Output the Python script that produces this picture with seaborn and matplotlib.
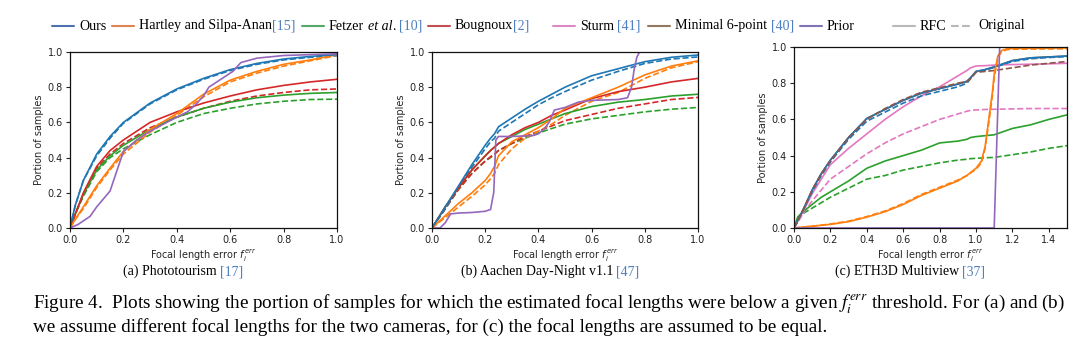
import matplotlib
matplotlib.use("Agg")
import matplotlib.pyplot as plt
import seaborn as sns
from matplotlib.lines import Line2D

# ---------------------------------------------------------------- data
# (a) Phototourism
grid_a = [0, .02, .05, .1, .15, .2, .3, .4, .5, .6, .7, .8, .9, 1.0]
ours_rfc_a = [0, .13, .27, .42, .52, .60, .71, .79, .85, .90, .935, .96, .975, .985]
ours_orig_a = [0, .13, .27, .41, .51, .595, .705, .785, .845, .895, .93, .955, .97, .98]
hartley_rfc_a = [0, .05, .12, .24, .34, .435, .56, .65, .76, .84, .89, .93, .955, .985]
hartley_orig_a = [0, .05, .11, .23, .33, .42, .545, .64, .745, .83, .88, .92, .95, .98]
fetzer_rfc_a = [0, .08, .19, .33, .41, .47, .56, .63, .68, .715, .74, .755, .765, .77]
fetzer_orig_a = [0, .08, .18, .32, .40, .45, .53, .60, .65, .68, .705, .72, .73, .732]
bougnoux_rfc_a = [0, .08, .20, .35, .44, .50, .60, .66, .71, .75, .785, .81, .83, .845]
bougnoux_orig_a = [0, .08, .19, .34, .42, .48, .57, .63, .68, .72, .75, .77, .785, .79]
prior_x_a = [0, .03, .075, .1, .15, .2, .25, .3, .35, .4, .44, .47, .5, .52,
             .56, .61, .64, .7, .8, .9, 1.0]
prior_a = [0, .02, .066, .12, .21, .435, .5, .55, .59, .63, .66, .7, .75, .8,
           .84, .89, .94, .965, .98, .985, .99]

# (b) Aachen Day-Night v1.1
grid_b = [0, .05, .1, .15, .2, .22, .235, .25, .3, .35, .4, .45, .5, .6, .7, .8, .9, 1.0]
ours_rfc_b = [0, .12, .24, .36, .47, .51, .535, .575, .625, .675, .72, .76, .8, .865, .905, .945, .97, .983]
ours_orig_b = [0, .11, .23, .345, .45, .49, .51, .55, .60, .65, .70, .74, .775, .84, .89, .935, .96, .972]
hartley_rfc_b = [0, .07, .14, .2, .27, .31, .35, .41, .49, .53, .57, .62, .68, .74, .80, .87, .92, .95]
hartley_orig_b = [0, .06, .12, .18, .245, .28, .31, .36, .45, .51, .55, .59, .64, .72, .77, .85, .91, .945]
fetzer_rfc_b = [0, .12, .23, .33, .41, .44, .46, .48, .52, .56, .59, .62, .65, .69, .715, .73, .75, .76]
fetzer_orig_b = [0, .11, .22, .31, .38, .40, .42, .44, .48, .51, .54, .565, .59, .62, .64, .66, .675, .685]
bougnoux_rfc_b = [0, .12, .23, .33, .41, .44, .46, .48, .53, .57, .60, .64, .67, .735, .775, .80, .83, .85]
bougnoux_orig_b = [0, .11, .22, .31, .38, .405, .42, .44, .48, .52, .55, .58, .61, .645, .68, .705, .73, .742]
prior_x_b = [0, .03, .05, .07, .1, .15, .2, .22, .232, .24, .25, .3, .38, .4, .42,
             .44, .46, .5, .55, .6, .7, .735, .75, .76, .77, .78, 1.0]
prior_b = [0, 0, .03, .08, .085, .088, .095, .105, .2, .5, .52, .52, .525, .535, .56,
           .6, .67, .685, .715, .725, .73, .74, .8, .9, .97, 1.0, 1.0]

# (c) ETH3D Multiview
grid_c = [0, .02, .05, .1, .15, .2, .3, .4, .5, .6, .7, .8, .9, .95, .97, 1.0,
          1.05, 1.1, 1.2, 1.3, 1.4, 1.5]
ours_rfc_c = [0, .04, .1, .21, .3, .375, .5, .605, .655, .705, .745, .77, .795, .81, .83, .865,
              .875, .89, .925, .94, .945, .95]
ours_orig_c = [0, .04, .1, .2, .29, .365, .49, .59, .64, .69, .73, .755, .78, .80, .825, .862,
               .872, .887, .92, .935, .942, .947]
minimal_rfc_c = [0, .04, .1, .21, .3, .375, .5, .605, .655, .705, .745, .77, .795, .81, .83, .865,
                 .875, .89, .925, .94, .945, .95]
minimal_orig_c = [0, .04, .1, .21, .3, .37, .5, .6, .66, .71, .75, .775, .80, .81, .825, .86,
                  .865, .87, .885, .90, .91, .92]
sturm_rfc_c = [0, .04, .09, .19, .27, .35, .44, .52, .60, .67, .73, .78, .84, .87, .885, .895,
               .897, .90, .903, .905, .907, .91]
sturm_orig_c = [0, .03, .08, .15, .21, .27, .34, .41, .47, .52, .56, .60, .63, .645, .65, .652,
                .655, .656, .658, .66, .66, .66]
fetzer_rfc_c = [0, .06, .09, .13, .17, .2, .26, .33, .37, .4, .43, .47, .48, .49, .5, .505,
                .51, .515, .55, .57, .6, .625]
fetzer_orig_c = [0, .05, .08, .11, .14, .17, .22, .27, .29, .32, .34, .36, .375, .38, .383, .385,
                 .388, .39, .405, .42, .44, .455]
hartley_x_c = [0, .1, .2, .3, .4, .5, .6, .7, .8, .9, .95, 1.0, 1.03, 1.05, 1.07, 1.09,
               1.1, 1.12, 1.14, 1.17, 1.2, 1.5]
hartley_rfc_c = [0, .01, .02, .035, .06, .09, .13, .18, .22, .26, .29, .33, .37, .45, .6, .75,
                 .85, .95, .98, .99, .992, .995]
hartley_orig_c = [0, .01, .022, .038, .063, .094, .135, .185, .225, .265, .29, .325, .36, .44, .58, .73,
                  .83, .94, .975, .985, .988, .99]
prior_x_c = [0, 1.10, 1.13, 1.5]
prior_c = [0, 0, 1.0, 1.0]

# --------------------------------------------------------------- style
sns.set_theme(style="ticks")
plt.rcParams["font.family"] = ["DejaVu Sans"]
plt.rcParams["axes.edgecolor"] = "#111111"
plt.rcParams["mathtext.fontset"] = "dejavusans"

tab = sns.color_palette("tab10")
deep = sns.color_palette("deep")
LINE = {"ours": tab[0], "hartley": tab[1], "fetzer": tab[2], "bougnoux": tab[3],
        "prior": tab[4], "minimal": tab[5], "sturm": tab[6]}
KEY = {"ours": deep[0], "hartley": deep[1], "fetzer": deep[2], "bougnoux": deep[3],
       "prior": deep[4], "minimal": deep[5], "sturm": deep[6]}
CITE = "#4f7fbf"
SERIF = "Liberation Serif"

W, H = 1071, 344
fig = plt.figure(figsize=(W / 100, H / 100), dpi=100)
fig.patch.set_facecolor("white")


def px_axes(left, top, right, bottom):
    return fig.add_axes([left / W, 1 - bottom / H, (right - left) / W, (bottom - top) / H])


def curve(ax, x, y, key, dashed=False):
    sns.lineplot(x=x, y=y, ax=ax, color=LINE[key], linewidth=1.2,
                 linestyle="--" if dashed else "-", sort=False, estimator=None)


def style_axes(ax, xmax, xticks):
    ax.set_xlim(0, xmax)
    ax.set_ylim(0, 1)
    ax.set_xticks(xticks)
    ax.set_yticks([0, .2, .4, .6, .8, 1.0])
    ax.set_xticklabels([f"{t:.1f}" for t in xticks])
    ax.set_yticklabels([f"{t:.1f}" for t in [0, .2, .4, .6, .8, 1.0]])
    ax.tick_params(labelsize=7, length=3, width=0.8, pad=2, colors="#222222")
    for s in ax.spines.values():
        s.set_linewidth(0.9)
    ax.set_xlabel(r"Focal length error $f_i^{err}$", fontsize=7, labelpad=2)
    ax.set_ylabel("Portion of samples", fontsize=7, labelpad=3)


ax_a = px_axes(70, 52, 337, 228)
for y, k, d in [(fetzer_orig_a, "fetzer", True), (bougnoux_orig_a, "bougnoux", True),
                (hartley_orig_a, "hartley", True), (ours_orig_a, "ours", True),
                (fetzer_rfc_a, "fetzer", False), (bougnoux_rfc_a, "bougnoux", False),
                (hartley_rfc_a, "hartley", False), (ours_rfc_a, "ours", False)]:
    curve(ax_a, grid_a, y, k, d)
curve(ax_a, prior_x_a, prior_a, "prior")
style_axes(ax_a, 1.0, [0, .2, .4, .6, .8, 1.0])

ax_b = px_axes(432, 52, 698, 228)
for y, k, d in [(fetzer_orig_b, "fetzer", True), (bougnoux_orig_b, "bougnoux", True),
                (hartley_orig_b, "hartley", True), (ours_orig_b, "ours", True),
                (fetzer_rfc_b, "fetzer", False), (bougnoux_rfc_b, "bougnoux", False),
                (hartley_rfc_b, "hartley", False), (ours_rfc_b, "ours", False)]:
    curve(ax_b, grid_b, y, k, d)
curve(ax_b, prior_x_b, prior_b, "prior")
style_axes(ax_b, 1.0, [0, .2, .4, .6, .8, 1.0])

ax_c = px_axes(794, 47, 1067, 228)
for y, k, d in [(fetzer_orig_c, "fetzer", True), (sturm_orig_c, "sturm", True),
                (fetzer_rfc_c, "fetzer", False), (sturm_rfc_c, "sturm", False),
                (minimal_rfc_c, "minimal", False), (ours_orig_c, "ours", True),
                (ours_rfc_c, "ours", False), (minimal_orig_c, "minimal", True)]:
    curve(ax_c, grid_c, y, k, d)
curve(ax_c, hartley_x_c, hartley_orig_c, "hartley", True)
curve(ax_c, hartley_x_c, hartley_rfc_c, "hartley")
curve(ax_c, prior_x_c, prior_c, "prior")
style_axes(ax_c, 1.5, [0, .2, .4, .6, .8, 1.0, 1.2, 1.4])

# ------------------------------------------------------- serif text runs
renderer = fig.canvas.get_renderer()


def run_width(runs, size):
    total = 0.0
    for s, color, italic in runs:
        if s == " ":
            a = fig.text(0, 0, "x x", fontsize=size, family=SERIF)
            b = fig.text(0, 0, "xx", fontsize=size, family=SERIF)
            total += a.get_window_extent(renderer).width - b.get_window_extent(renderer).width
            a.remove(); b.remove()
            continue
        t = fig.text(0, 0, s, fontsize=size, family=SERIF, math_fontfamily="stix",
                     fontstyle="italic" if italic else "normal")
        total += t.get_window_extent(renderer).width
        t.remove()
    return total


def draw_runs(x_px, base_px, runs, size):
    x = x_px
    for s, color, italic in runs:
        if s == " ":
            x += run_width([(" ", color, False)], size)
            continue
        t = fig.text(x / W, 1 - base_px / H, s, fontsize=size, family=SERIF, color=color,
                     math_fontfamily="stix",
                     fontstyle="italic" if italic else "normal", va="baseline", ha="left")
        x += t.get_window_extent(renderer).width
    return x


def fit_size(runs, target_px, ref=10.0):
    return ref * target_px / run_width(runs, ref)


K = "black"
SP = (" ", K, False)

# legend row
legend_items = [
    (52, KEY["ours"], "-", [("Ours", K, False)]),
    (112, KEY["hartley"], "-", [("Hartley and Silpa-Anan", K, False), ("[15]", CITE, False)]),
    (302, KEY["fetzer"], "-", [("Fetzer", K, False), SP, ("et al", K, True), (".", K, False),
                               SP, ("[10]", CITE, False)]),
    (428, KEY["bougnoux"], "-", [("Bougnoux", K, False), ("[2]", CITE, False)]),
    (553, KEY["sturm"], "-", [("Sturm", K, False), SP, ("[41]", CITE, False)]),
    (648, KEY["minimal"], "-", [("Minimal 6-point", K, False), SP, ("[40]", CITE, False)]),
    (800, KEY["prior"], "-", [("Prior", K, False)]),
    (893, "#b8b8b8", "-", [("RFC", K, False)]),
    (951, "#b8b8b8", "--", [("Original", K, False)]),
]
leg_size = fit_size(legend_items[1][3], 157)
for x0, col, ls, runs in legend_items:
    fig.add_artist(Line2D([x0 / W, (x0 + 22) / W], [1 - 25.5 / H, 1 - 25.5 / H],
                          color=col, linestyle=ls, linewidth=1.5, transform=fig.transFigure))
    draw_runs(x0 + 27, 29.5, runs, leg_size)

# sub-captions
subcaps = [
    (183, [("(a) Phototourism", K, False), SP, ("[17]", CITE, False)]),
    (550, [("(b) Aachen Day-Night v1.1", K, False), SP, ("[47]", CITE, False)]),
    (910, [("(c) ETH3D Multiview", K, False), SP, ("[37]", CITE, False)]),
]
sub_size = fit_size(subcaps[0][1], 120)
for cx, runs in subcaps:
    w = run_width(runs, sub_size)
    draw_runs(cx - w / 2, 275, runs, sub_size)

# figure caption
line1 = [("Figure 4.  Plots showing the portion of samples for which the estimated focal lengths "
          r"were below a given $f_i^{err}$ threshold. For (a) and (b)", K, False)]
line2 = [("we assume different focal lengths for the two cameras, for (c) the focal lengths "
          "are assumed to be equal.", K, False)]
cap_size = fit_size(line1, 1032)
draw_runs(33, 309, line1, cap_size)
draw_runs(33, 332, line2, cap_size)

fig.savefig("out.png", dpi=100, facecolor="white")
